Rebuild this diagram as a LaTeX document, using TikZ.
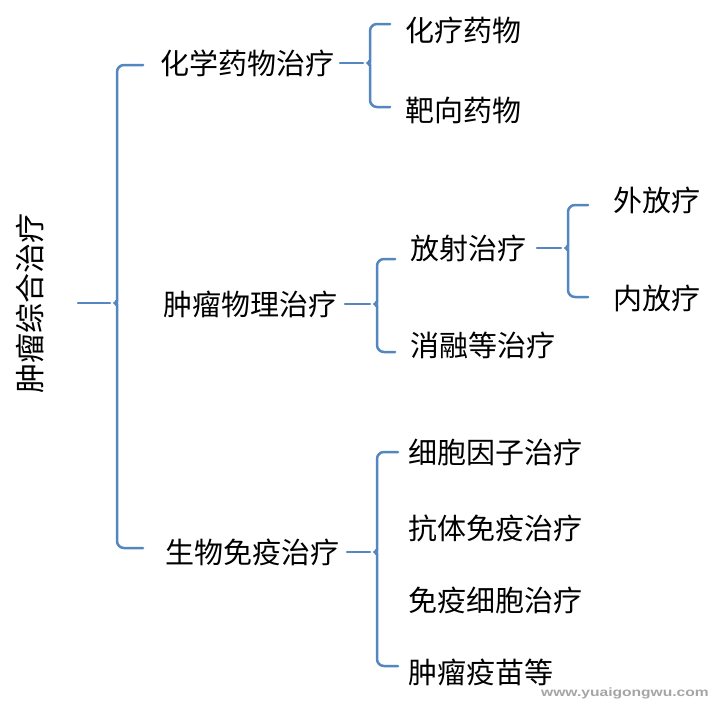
\documentclass[tikz,border=0pt]{standalone}
\usepackage{fontspec}
\setmainfont{Noto Sans CJK SC}
\newfontfamily\wmfont{Liberation Sans}
\definecolor{brc}{RGB}{84,134,192}
\definecolor{wmc}{RGB}{165,165,165}
\tikzset{
  br/.style={draw=brc, line width=2.5pt, line cap=round, line join=round},
  lbl/.style={anchor=west, inner sep=0pt, font=\fontsize{29pt}{29pt}\selectfont},
}
% #1 parent, #2 top child, #3 bottom child, #4 stem x, #5 vertical x, #6 arm x, #7 top arm shift, #8 bottom arm shift
\newcommand\mkbrace[8]{%
  \coordinate (bs) at (#4,0);
  \coordinate (bv) at (#5,0);
  \coordinate (ba) at (#6,0);
  \draw[br] (bs |- #1) -- ([xshift=-7pt]bv |- #1);
  \draw[br, rounded corners=7pt] ([yshift=#7]ba |- #2) -- ([yshift=#7]bv |- #2)
     -- ([yshift=8pt]bv |- #1) to[out=-90,in=0] ([xshift=-7pt]bv |- #1)
     to[out=0,in=90] ([yshift=-8pt]bv |- #1)
     -- ([yshift=#8]bv |- #3) -- ([yshift=#8]ba |- #3);
}
\begin{document}
\begin{tikzpicture}[x=1pt, y=-1pt]
\useasboundingbox (0,0) rectangle (718,704);
\fill[white] (0,0) rectangle (718,704);
% root
\node[inner sep=0pt, rotate=90, font=\fontsize{30pt}{30pt}\selectfont] (root) at (30,303) {肿瘤综合治疗};
% level 1
\node[lbl] (c1) at (160,63) {化学药物治疗};
\node[lbl] (c2) at (163,304) {肿瘤物理治疗};
\node[lbl] (c3) at (165,552) {生物免疫治疗};
% level 2
\node[lbl] (a1) at (405,30) {化疗药物};
\node[lbl] (a2) at (405,110) {靶向药物};
\node[lbl] (b1) at (410,248) {放射治疗};
\node[lbl] (b2) at (410,345) {消融等治疗};
\node[lbl] (d1) at (408,452) {细胞因子治疗};
\node[lbl] (d2) at (408,528) {抗体免疫治疗};
\node[lbl] (d3) at (408,600) {免疫细胞治疗};
\node[lbl] (d4) at (408,672) {肿瘤疫苗等};
% level 3
\node[lbl] (e1) at (613,200) {外放疗};
\node[lbl] (e2) at (613,298) {内放疗};
% braces
\mkbrace{root}{c1}{c3}{78}{117}{143}{-2pt}{4pt}
\mkbrace{c1}{a1}{a2}{340}{370}{390}{6pt}{3pt}
\mkbrace{c2}{b1}{b2}{345}{377}{395}{-11pt}{-7pt}
\mkbrace{b1}{e1}{e2}{537}{568}{588}{-5pt}{1pt}
\mkbrace{c3}{d1}{d4}{347}{377}{398}{0pt}{6pt}
% watermark
\node[inner sep=0pt, xscale=1.3, text=wmc, font=\wmfont\bfseries\fontsize{12pt}{12pt}\selectfont] (wm) at (625,693) {www.yuaigongwu.com};
\end{tikzpicture}
\end{document}
